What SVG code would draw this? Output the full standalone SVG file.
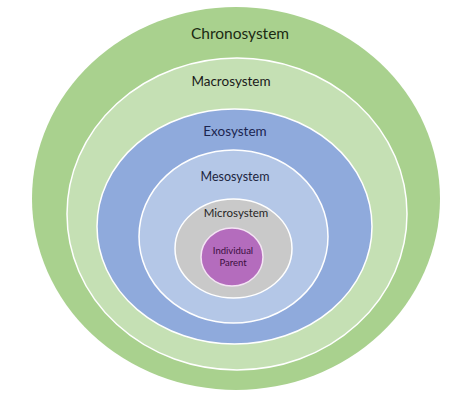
<svg xmlns="http://www.w3.org/2000/svg" width="474" height="402" viewBox="0 0 474 402">
<style>
.ring{stroke:#ffffff;stroke-width:1.5}
text{font-family:Lato,"Open Sans","Liberation Sans",sans-serif;text-anchor:middle}
</style>
<rect width="474" height="402" fill="#ffffff"/>
<g id="chronosystem">
<ellipse cx="236" cy="198.5" rx="204" ry="191.5" fill="#a9d18e"/>
<text x="240" y="39" font-size="15.5" fill="#1b2a12">Chronosystem</text>
</g>
<g id="macrosystem">
<ellipse class="ring" cx="237" cy="214" rx="170" ry="156" fill="#c5e0b4"/>
<text x="231" y="86" font-size="13.5" fill="#1a1a1a">Macrosystem</text>
</g>
<g id="exosystem">
<ellipse class="ring" cx="234.5" cy="226.5" rx="137.5" ry="117.5" fill="#8faadc"/>
<text x="235" y="136" font-size="13.5" fill="#1b2550">Exosystem</text>
</g>
<g id="mesosystem">
<ellipse class="ring" cx="233.5" cy="236.5" rx="94.5" ry="86.5" fill="#b4c7e7"/>
<text x="235" y="181" font-size="12.5" fill="#1c2540">Mesosystem</text>
</g>
<g id="microsystem">
<ellipse class="ring" cx="233.5" cy="248.5" rx="58.5" ry="49.5" fill="#c9c9c9"/>
<text x="236" y="217" font-size="11.5" fill="#262626">Microsystem</text>
</g>
<g id="individual-parent">
<ellipse cx="232" cy="257" rx="31" ry="29" fill="#b46cbd" stroke="#f4e4f4" stroke-width="1.5"/>
<text x="233" y="254" font-size="9.5" fill="#3a0f3f">Individual</text>
<text x="233" y="265.5" font-size="9.5" fill="#3a0f3f">Parent</text>
</g>
<g id="connectors"/>
</svg>
